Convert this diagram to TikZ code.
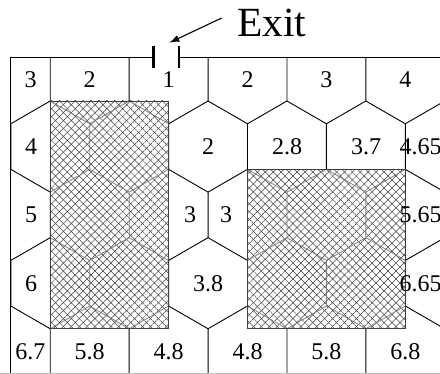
\documentclass[tikz,border=0pt]{standalone}
\usepackage{fontspec}
\setmainfont{Liberation Serif}
\usetikzlibrary{patterns.meta,arrows.meta}
\begin{document}
\begin{tikzpicture}[x=1pt,y=-1pt,
  num/.style={inner sep=0pt,font=\fontsize{24}{24}\selectfont},
  edge/.style={line width=0.9pt,black},
  grayedge/.style={line width=0.8pt,black!50},
  rectborder/.style={line width=0.8pt,black!75},
  hatchA/.style={pattern={Lines[angle=45,distance=5.6pt,line width=0.5pt]},pattern color=black!75},
  hatchB/.style={pattern={Lines[angle=-45,distance=5.6pt,line width=0.5pt]},pattern color=black!75},
  wall/.style={line width=1.2pt,black},
  doorpost/.style={line width=2.7pt,black},
]
\useasboundingbox (0,0) rectangle (440,374);
\def\hexgrid#1{%
 \foreach \r in {0,...,4}{%
  \pgfmathsetmacro\yr{101+\r*68.33}%
  \pgfmathsetmacro\xo{mod(\r,2)==1 ? -68.1 : -28.65}%
  \foreach \k in {0,...,7}{%
   \pgfmathsetmacro\xx{\xo+\k*78.9}%
   \draw[#1] (\xx,\yr-45.55) -- (\xx,\yr) -- (\xx+39.45,\yr+22.78) -- (\xx+78.9,\yr);
  }}}
% black grid
\begin{scope}
 \clip (10.8,57.3) rectangle (440,374);
 \hexgrid{edge}
\end{scope}
% hatched obstacles
\fill[white] (50.25,101) rectangle (168.6,328.8);
\fill[white] (247.5,169.3) rectangle (405.3,328.8);
\fill[hatchA] (50.25,101) rectangle (168.6,328.8);
\fill[hatchB] (50.25,101) rectangle (168.6,328.8);
\fill[hatchA] (247.5,169.3) rectangle (405.3,328.8);
\fill[hatchB] (247.5,169.3) rectangle (405.3,328.8);
\begin{scope}
 \clip (50.25,101) rectangle (168.6,328.8) (247.5,169.3) rectangle (405.3,328.8);
 \hexgrid{grayedge}
\end{scope}
\draw[rectborder] (50.25,101) rectangle (168.6,328.8);
\draw[rectborder] (247.5,169.3) rectangle (405.3,328.8);
% walls and door
\draw[wall] (10.8,374) -- (10.8,57.3) -- (153.3,57.3);
\draw[wall] (179,57.3) -- (440,57.3);
\draw[doorpost] (153.3,46.5) -- (153.3,68.3);
\draw[doorpost] (179,46.5) -- (179,68.3);
\draw[line width=0.8pt,black!25] (0,373.5) -- (440,373.5);
% exit label and arrow
\node[inner sep=0pt,anchor=base,font=\fontsize{41.5}{41.5}\selectfont] (exit) at (271.7,36.7) {Exit};
\coordinate (arrowstart) at (221.7,18);
\coordinate (door) at (169.3,42.7);
\draw[-{Latex[length=10pt,width=7pt]},line width=1.1pt] (arrowstart) -- (door);
% row 1
\node[num] (a1) at (30.5,79.5) {3};
\node[num] (a2) at (89.7,79.5) {2};
\node[num] (a3) at (168.6,79.5) {1};
\node[num] (a4) at (247.5,79.5) {2};
\node[num] (a5) at (326.4,79.5) {3};
\node[num] (a6) at (405.3,79.5) {4};
% row 2
\node[num] (b1) at (31,146.6) {4};
\node[num] (b2) at (208,146.6) {2};
\node[num] (b3) at (287,146.6) {2.8};
\node[num] (b4) at (366,146.6) {3.7};
\node[num,anchor=west] (b5) at (399.5,146.6) {4.65};
% row 3
\node[num] (c1) at (31,215) {5};
\node[num] (c2) at (190,215) {3};
\node[num] (c3) at (226,215) {3};
\node[num,anchor=west] (c4) at (399.5,215) {5.65};
% row 4
\node[num] (d1) at (31,283.4) {6};
\node[num] (d2) at (208,283.4) {3.8};
\node[num,anchor=west] (d3) at (399.5,283.4) {6.65};
% row 5
\node[num] (e1) at (30.5,351.5) {6.7};
\node[num] (e2) at (89.7,351.5) {5.8};
\node[num] (e3) at (168.6,351.5) {4.8};
\node[num] (e4) at (247.5,351.5) {4.8};
\node[num] (e5) at (326.4,351.5) {5.8};
\node[num] (e6) at (405.3,351.5) {6.8};
\end{tikzpicture}
\end{document}
